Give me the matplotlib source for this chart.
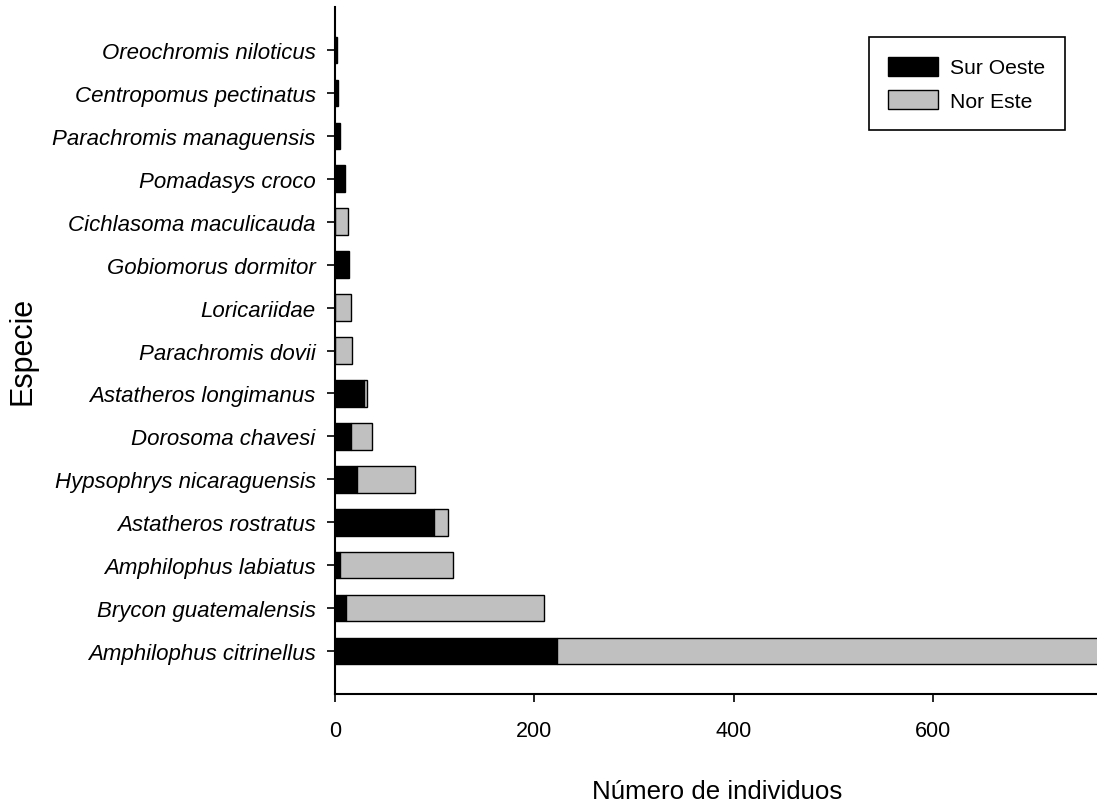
import matplotlib
matplotlib.use("Agg")
import matplotlib.pyplot as plt
import numpy as np

# Data (bottom to top)
species = [
    "Amphilophus citrinellus",
    "Brycon guatemalensis",
    "Amphilophus labiatus",
    "Astatheros rostratus",
    "Hypsophrys nicaraguensis",
    "Dorosoma chavesi",
    "Astatheros longimanus",
    "Parachromis dovii",
    "Loricariidae",
    "Gobiomorus dormitor",
    "Cichlasoma maculicauda",
    "Pomadasys croco",
    "Parachromis managuensis",
    "Centropomus pectinatus",
    "Oreochromis niloticus",
]
sur_oeste = [223, 11, 5, 99, 22, 16, 29, 0, 0, 14, 0, 10, 5, 3, 2]
nor_este = [560, 199, 113, 14, 58, 21, 3, 17, 16, 0, 13, 0, 0, 0, 0]
x_ticks = [0, 200, 400, 600]
series_names = ["Sur Oeste", "Nor Este"]

plt.rcParams["font.family"] = ["Liberation Sans", "DejaVu Sans"]

W, H = 1097, 804
fig = plt.figure(figsize=(W / 100, H / 100), dpi=100)
ax = fig.add_axes([335 / W, 1 - 695 / H, (W - 335) / W, (695 - 8) / H])

y = np.arange(len(species))
so = np.array(sur_oeste, dtype=float)
ne = np.array(nor_este, dtype=float)
h = 0.62
b1 = ax.barh(y, so, height=h, color="black", edgecolor="black", linewidth=1.0,
             label=series_names[0])
b2 = ax.barh(y, ne, left=so, height=h, color="#c0c0c0", edgecolor="black",
             linewidth=1.0, label=series_names[1])
for rect, v in zip(b2, ne):
    if v == 0:
        rect.set_visible(False)
for rect, v in zip(b1, so):
    if v == 0:
        rect.set_visible(False)

ax.set_xlim(0, 764)
ax.set_ylim(-1, len(species))
ax.set_yticks(y)
ax.set_yticklabels(species, fontstyle="italic", fontsize=16)
ax.set_xticks(x_ticks)
ax.set_xticklabels([str(t) for t in x_ticks], fontsize=15.5)

for s in ["top", "right"]:
    ax.spines[s].set_visible(False)
for s in ["left", "bottom"]:
    ax.spines[s].set_linewidth(1.5)
    ax.spines[s].set_color("black")
ax.tick_params(axis="y", direction="out", length=6, width=1.2, pad=8)
ax.tick_params(axis="x", direction="out", length=6, width=1.2, pad=13)

fig.text(717 / W, 1 - 799 / H, "Número de individuos", ha="center", va="baseline",
         fontsize=18.6)
fig.text(22 / W, 1 - 351 / H, "Especie", ha="center", va="center", rotation=90,
         fontsize=22)

leg = ax.legend(loc="upper right", bbox_to_anchor=(0.958, 0.956), borderaxespad=0,
                fontsize=15.2, frameon=True, fancybox=False, shadow=False,
                handlelength=2.37, handleheight=1.0, handletextpad=0.57,
                labelspacing=0.6, borderpad=0.92)
leg.get_frame().set_edgecolor("black")
leg.get_frame().set_linewidth(1.2)
leg.get_frame().set_alpha(1)

fig.savefig("out.png", dpi=100)
